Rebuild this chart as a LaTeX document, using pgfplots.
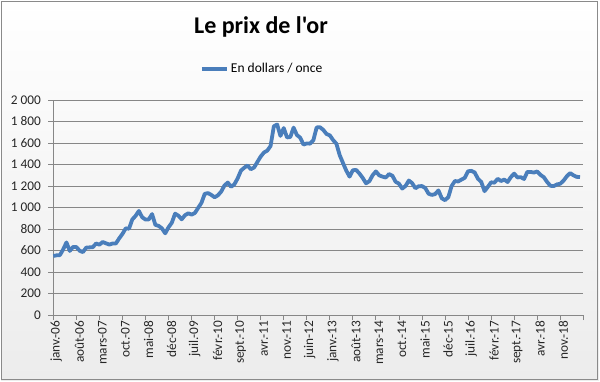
\documentclass[border=0pt]{standalone}
\usepackage{fontspec}
\setmainfont{Carlito}[Ligatures=TeXOff]
\usepackage{pgfplots}
\usepackage{pgfplotstable}
\pgfplotsset{compat=1.18}
\definecolor{serie}{HTML}{4A7EBB}
\definecolor{grille}{HTML}{878787}
\definecolor{cadre}{HTML}{8A8A8A}
\definecolor{fondbas}{HTML}{ECECEC}
\pgfplotstableread{
x y
0 549
1 555
2 557
3 610
4 675
5 596
6 633
7 632
8 598
9 585
10 627
11 629
12 631
13 665
14 654
15 679
16 667
17 655
18 665
19 665
20 712
21 754
22 806
23 803
24 889
25 922
26 968
27 909
28 888
29 889
30 939
31 839
32 829
33 806
34 760
35 816
36 858
37 943
38 924
39 890
40 928
41 946
42 934
43 949
44 996
45 1043
46 1127
47 1134
48 1117
49 1095
50 1113
51 1148
52 1205
53 1232
54 1193
55 1215
56 1271
57 1343
58 1370
59 1391
60 1356
61 1372
62 1424
63 1474
64 1512
65 1529
66 1572
67 1756
68 1772
69 1666
70 1739
71 1652
72 1656
73 1743
74 1674
75 1650
76 1585
77 1596
78 1594
79 1626
80 1745
81 1747
82 1722
83 1684
84 1671
85 1627
86 1593
87 1487
88 1414
89 1343
90 1287
91 1347
92 1349
93 1316
94 1275
95 1225
96 1244
97 1300
98 1336
99 1299
100 1287
101 1279
102 1311
103 1296
104 1239
105 1222
106 1176
107 1200
108 1251
109 1227
110 1179
111 1198
112 1199
113 1181
114 1128
115 1117
116 1125
117 1159
118 1086
119 1068
120 1097
121 1200
122 1246
123 1242
124 1260
125 1276
126 1337
127 1341
128 1326
129 1267
130 1238
131 1152
132 1192
133 1234
134 1231
135 1267
136 1246
137 1260
138 1237
139 1283
140 1315
141 1280
142 1282
143 1265
144 1331
145 1331
146 1325
147 1335
148 1303
149 1282
150 1238
151 1202
152 1199
153 1215
154 1221
155 1250
156 1291
157 1320
158 1300
159 1285
160 1284
}\gold
\begin{document}
\begin{tikzpicture}[x=1pt,y=1pt]
\useasboundingbox (0pt,0pt) rectangle (600pt,381pt);
\shade[top color=white,bottom color=fondbas] (1pt,1pt) rectangle (599pt,380pt);
\draw[cadre,line width=1.3pt] (1.3pt,1.8pt) rectangle (597.8pt,379.7pt);
\node[font=\fontsize{24}{28}\selectfont\bfseries,anchor=base] at (261pt,347pt) {Le prix de l'or};
\begin{axis}[
  at={(53.3pt,66pt)}, anchor=south west,
  scale only axis, width=530pt, height=215pt,
  xmin=0, xmax=161, ymin=0, ymax=2000,
  clip=false,
  axis lines*=left,
  axis line style={grille, line width=0.9pt},
  xtick={0,7,...,161},
  xticklabels={janv.-06,août-06,mars-07,oct.-07,mai-08,déc-08,juil.-09,févr.-10,sept.-10,avr.-11,nov.-11,juin-12,janv.-13,août-13,mars-14,oct.-14,mai-15,déc-15,juil.-16,févr.-17,sept.-17,avr.-18,nov.-18,{}},
  ytick={0,200,...,2000},
  ymajorgrids,
  grid style={grille, line width=0.9pt},
  tick align=outside,
  major tick length=5pt,
  tick style={grille, line width=0.9pt},
  every tick label/.append style={font=\fontsize{13.3}{15}\selectfont, text=black!85},
  xticklabel style={rotate=90, anchor=east, xshift=3pt, yshift=-3pt},
  yticklabel style={anchor=east, xshift=-4pt},
  /pgf/number format/.cd, 1000 sep={\ }, assume math mode=true,
  /pgfplots/.cd,
  legend style={at={(0.394,1.144)}, anchor=center, draw=none, fill=none,
    font=\fontsize{13.5}{16}\selectfont, inner sep=0pt},
  legend image code/.code={\draw[serie, line width=4pt] (0pt,0pt) -- (25pt,0pt);},
]
\addplot[serie, line width=3.8pt, line join=round, no marks] table[x=x,y=y] {\gold};
\addlegendentry{En dollars / once}
\end{axis}
\end{tikzpicture}
\end{document}
